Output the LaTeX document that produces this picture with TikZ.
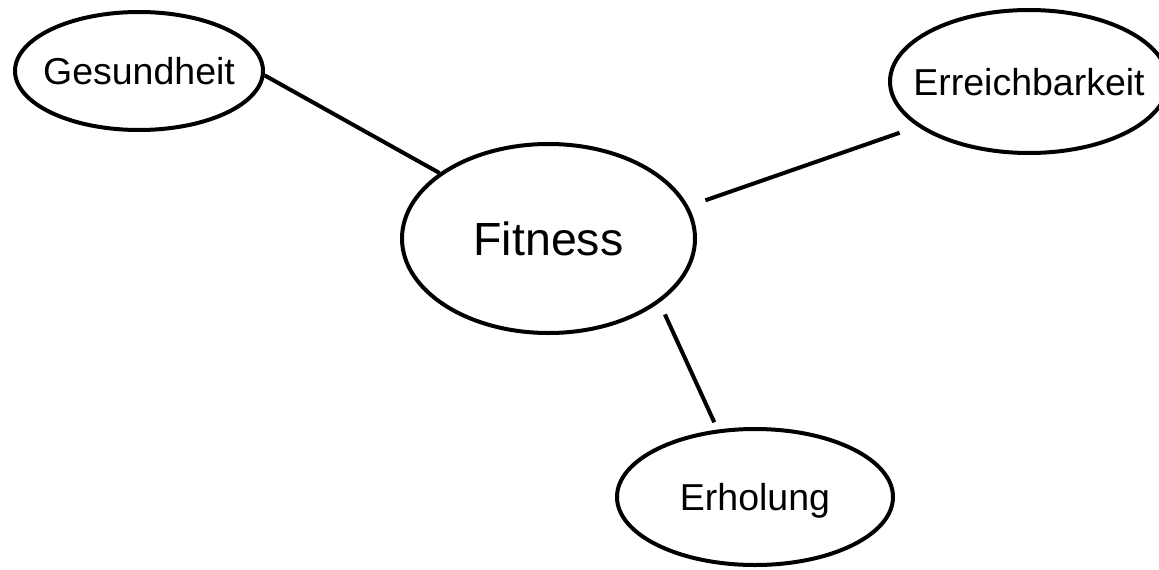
\documentclass[tikz,border=0pt]{standalone}
\usepackage{fontspec}
\setmainfont{Liberation Sans}
\usetikzlibrary{shapes.geometric}
\begin{document}
\begin{tikzpicture}[x=1pt,y=-1pt,
  bubble/.style={draw, ellipse, line width=4pt, inner xsep=-40pt, inner ysep=0pt, text depth=0pt, font=\fontsize{37.5}{45}\selectfont},
  link/.style={line width=4pt}]
\useasboundingbox (0,0) rectangle (1159,570);
\node[bubble, minimum width=248pt, minimum height=118pt] (g) at (139,71) {Gesundheit};
\node[bubble, minimum width=293pt, minimum height=189pt, font=\fontsize{46.5}{56}\selectfont] (f) at (548.5,238.5) {Fitness};
\node[bubble, minimum width=278pt, minimum height=143pt] (e) at (1029,81.5) {Erreichbarkeit};
\node[bubble, minimum width=276pt, minimum height=136pt] (h) at (755,497) {Erholung};
\draw[link] (g.-2) -- (f.149);
\draw[link, shorten <=18pt, shorten >=19pt] (f.13.4) -- (e.202.2);
\draw[link, shorten <=13pt, shorten >=8pt] (f.-30.6) -- (h.119);
\end{tikzpicture}
\end{document}
